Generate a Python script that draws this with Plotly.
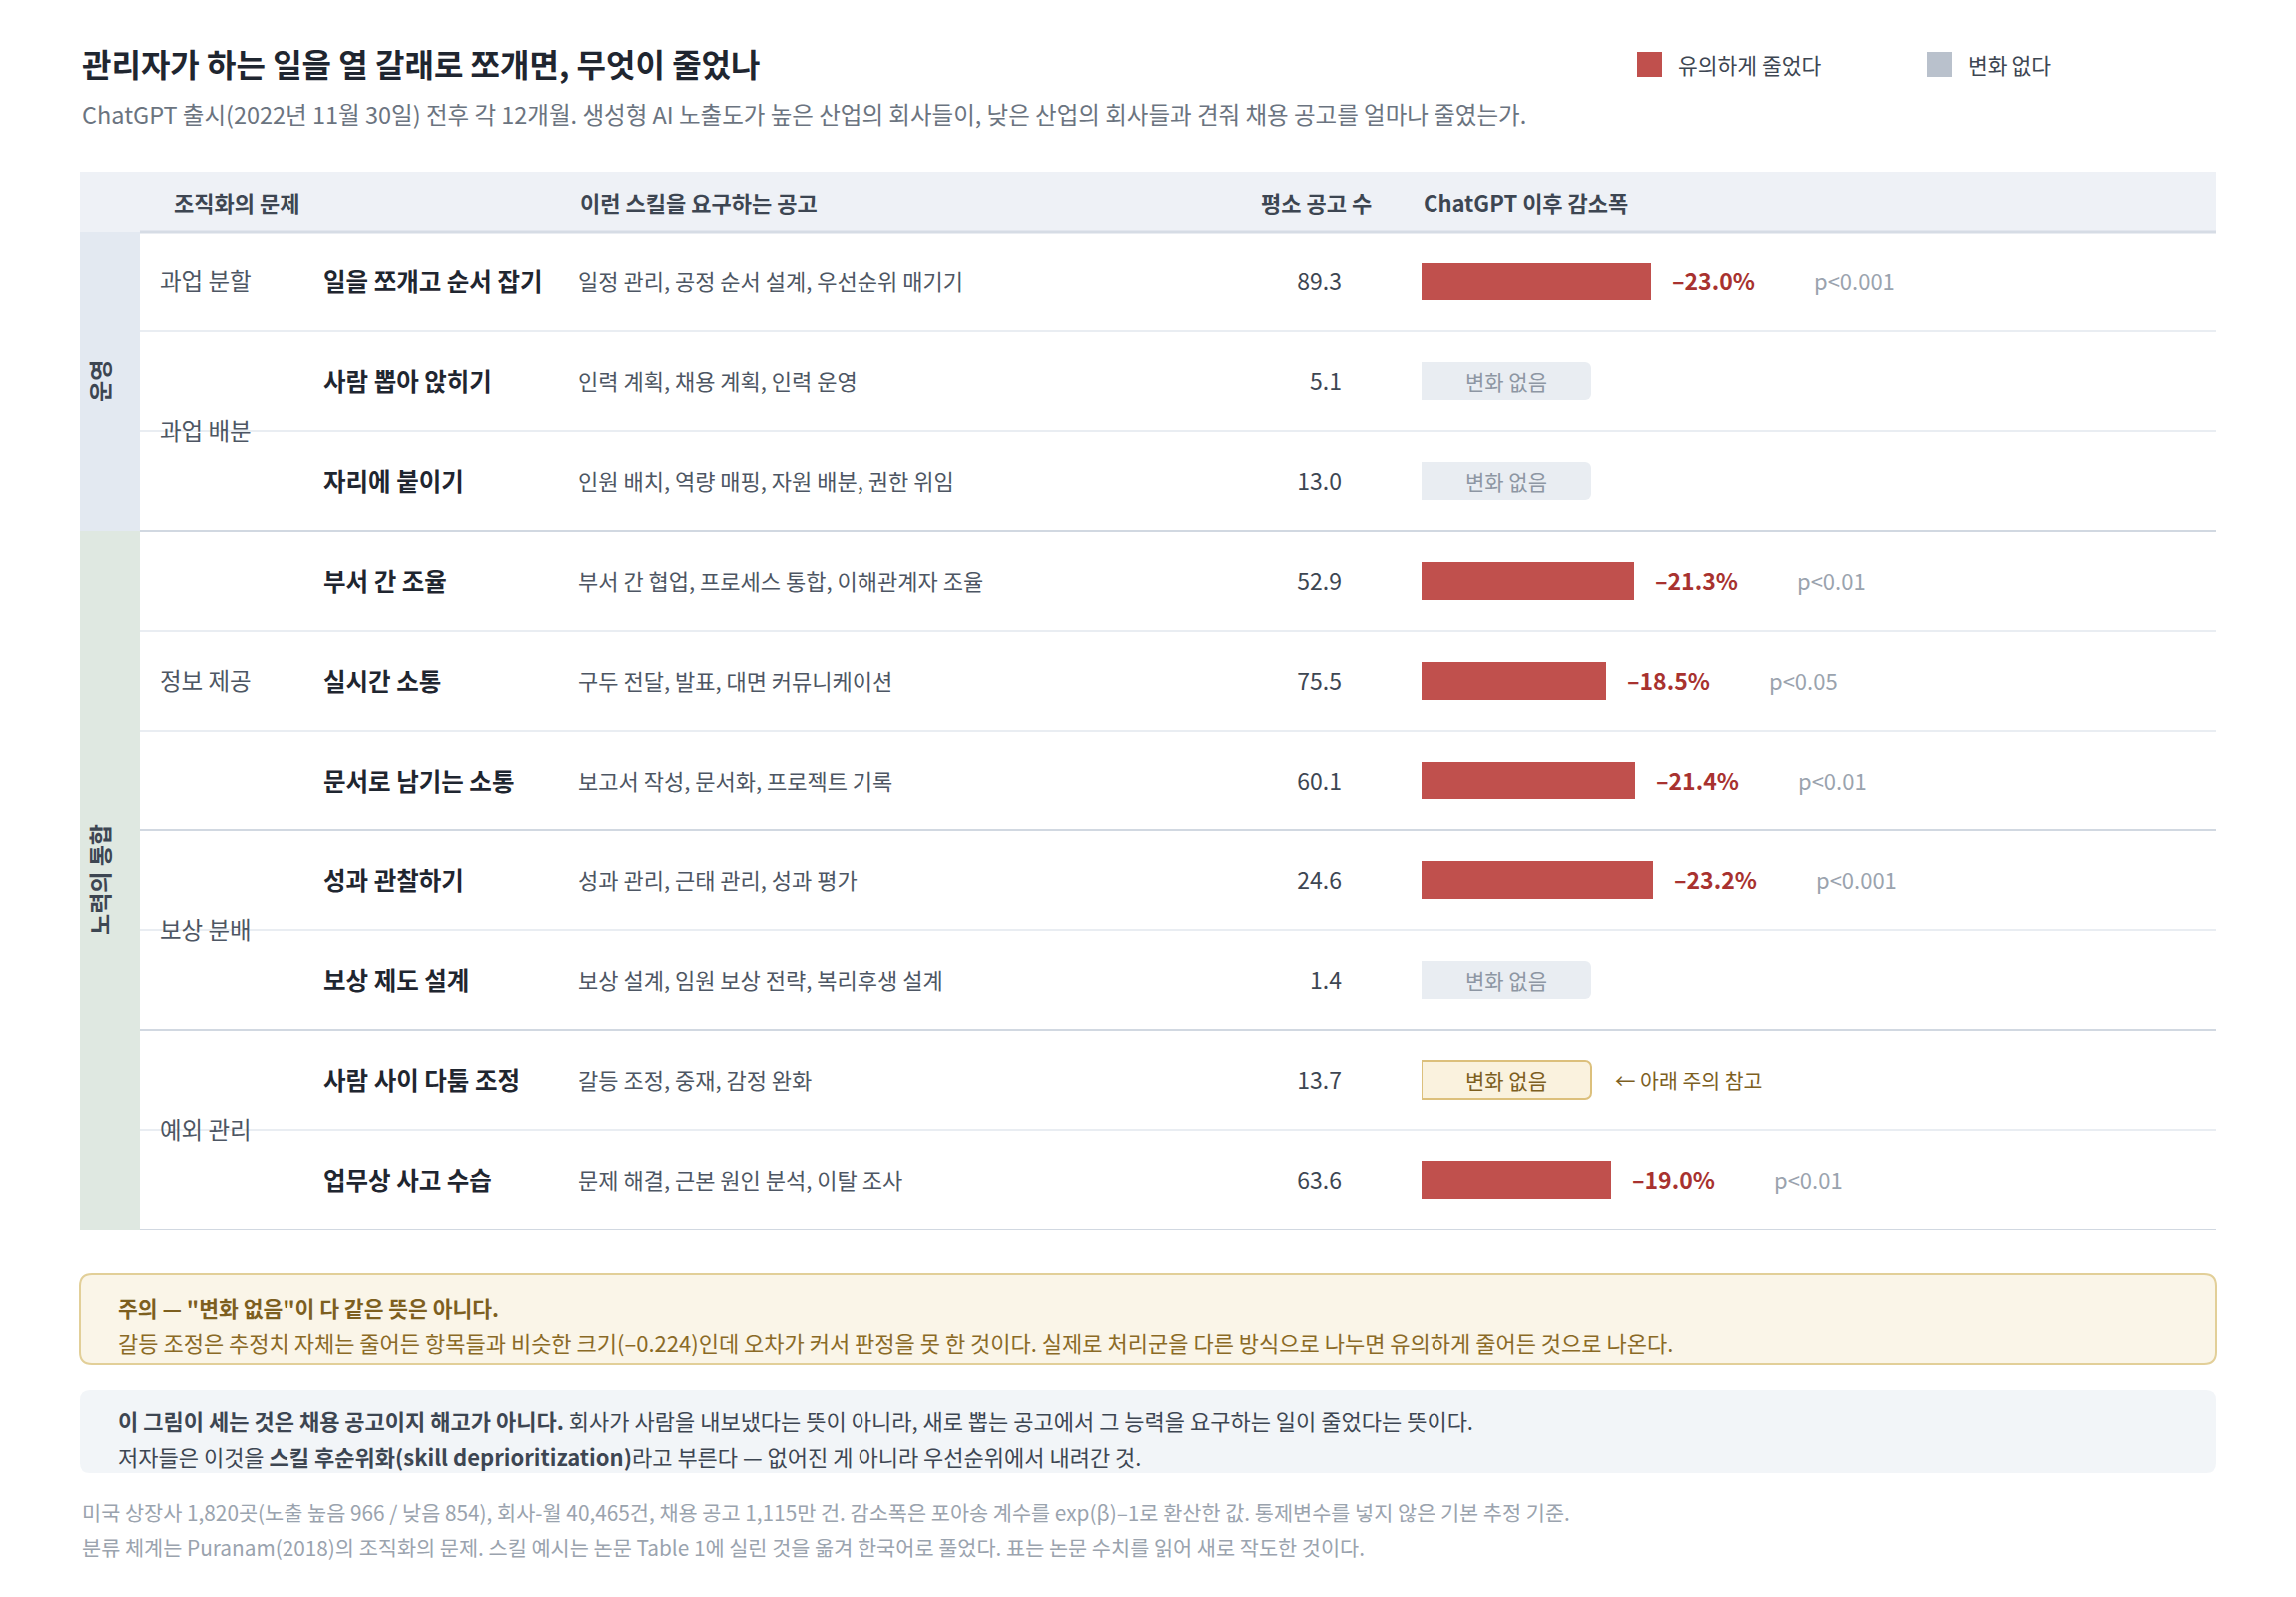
import plotly.graph_objects as go

# page is 2300x1600; the html body keeps an 8px margin, so the figure is drawn 8px in
PAGE_W, PAGE_H = 2300, 1600
OFF = 8
W, H = PAGE_W - OFF, PAGE_H - OFF

# ---------------- data ----------------
bands = ["운영", "노력의 통합"]
band_sizes = [3, 7]
groups = ["과업 분할", "과업 배분", "정보 제공", "보상 분배", "예외 관리"]
group_sizes = [1, 2, 3, 2, 2]
skills = ["일을 쪼개고 순서 잡기", "사람 뽑아 앉히기", "자리에 붙이기", "부서 간 조율", "실시간 소통",
          "문서로 남기는 소통", "성과 관찰하기", "보상 제도 설계", "사람 사이 다툼 조정", "업무상 사고 수습"]
examples = ["일정 관리, 공정 순서 설계, 우선순위 매기기",
            "인력 계획, 채용 계획, 인력 운영",
            "인원 배치, 역량 매핑, 자원 배분, 권한 위임",
            "부서 간 협업, 프로세스 통합, 이해관계자 조율",
            "구두 전달, 발표, 대면 커뮤니케이션",
            "보고서 작성, 문서화, 프로젝트 기록",
            "성과 관리, 근태 관리, 성과 평가",
            "보상 설계, 임원 보상 전략, 복리후생 설계",
            "갈등 조정, 중재, 감정 완화",
            "문제 해결, 근본 원인 분석, 이탈 조사"]
baseline_posts = [89.3, 5.1, 13.0, 52.9, 75.5, 60.1, 24.6, 1.4, 13.7, 63.6]
decline_pct = [-23.0, None, None, -21.3, -18.5, -21.4, -23.2, None, None, -19.0]
p_values = ["p<0.001", None, None, "p<0.01", "p<0.05", "p<0.01", "p<0.001", None, None, "p<0.01"]
flagged_row = 8  # 사람 사이 다툼 조정 : see note below

headers = ["조직화의 문제", "이런 스킬을 요구하는 공고", "평소 공고 수", "ChatGPT 이후 감소폭"]
legend_labels = ["유의하게 줄었다", "변화 없다"]
ns_label = "변화 없음"
flag_note = "← 아래 주의 참고"

title = "관리자가 하는 일을 열 갈래로 쪼개면, 무엇이 줄었나"
subtitle = ("ChatGPT 출시(2022년 11월 30일) 전후 각 12개월. 생성형 AI 노출도가 높은 산업의 회사들이, "
            "낮은 산업의 회사들과 견줘 채용 공고를 얼마나 줄였는가.")
note_title = "주의 — \"변화 없음\"이 다 같은 뜻은 아니다."
note_text = ("갈등 조정은 추정치 자체는 줄어든 항목들과 비슷한 크기(–0.224)인데 오차가 커서 판정을 못 한 것이다. "
             "실제로 처리군을 다른 방식으로 나누면 유의하게 줄어든 것으로 나온다.")
info_line1 = ("<b>이 그림이 세는 것은 채용 공고이지 해고가 아니다.</b> 회사가 사람을 내보냈다는 뜻이 아니라, "
              "새로 뽑는 공고에서 그 능력을 요구하는 일이 줄었다는 뜻이다.")
info_line2 = ("저자들은 이것을 <b>스킬 후순위화(skill deprioritization)</b>라고 부른다 — "
              "없어진 게 아니라 우선순위에서 내려간 것.")
footer1 = ("미국 상장사 1,820곳(노출 높음 966 / 낮음 854), 회사-월 40,465건, 채용 공고 1,115만 건. "
           "감소폭은 포아송 계수를 exp(β)–1로 환산한 값. 통제변수를 넣지 않은 기본 추정 기준.")
footer2 = ("분류 체계는 Puranam(2018)의 조직화의 문제. 스킬 예시는 논문 Table 1에 실린 것을 옮겨 "
           "한국어로 풀었다. 표는 논문 수치를 읽어 새로 작도한 것이다.")

# ---------------- style ----------------
FONT = "Noto Sans CJK KR, Noto Sans, sans-serif"
RED = "#c0504d"
RED_TXT = "#a8322f"
GREY_SQ = "#b9c1cc"
DARK = "#1f2630"
MID = "#3d4652"
SOFT = "#4d5663"
MUTED = "#9aa3ae"
PILL_FILL = "#e9edf2"
PILL_TXT = "#8d96a3"
FLAG_FILL = "#faf2de"
FLAG_LINE = "#dcc07c"
FLAG_TXT = "#7d5f1f"

TABLE_L, TABLE_R = 80, 2220
BAND_R = 140
HEAD_T, ROWS_T, ROW_H = 172, 232, 100
n = len(skills)
ROWS_B = ROWS_T + ROW_H * n
BAR_X0 = 1424
PX_PER_PCT = 10
PILL_W = 17  # in pct units (170 px)
BAR_W = 0.38
HEAVY_AFTER = {2, 5, 7}
TDY = 0.035  # optical vertical centring of row text

X_GROUP, X_SKILL, X_EX, X_VAL = 160, 324, 579, 1344


def xp(v):
    return (v - OFF) / W


def yp(v):
    return 1 - (v - OFF) / H


def rrect(x0, y0, x1, y1, r):
    X, Y = xp, yp
    return (f"M{X(x0+r)},{Y(y0)} L{X(x1-r)},{Y(y0)} Q{X(x1)},{Y(y0)} {X(x1)},{Y(y0+r)} "
            f"L{X(x1)},{Y(y1-r)} Q{X(x1)},{Y(y1)} {X(x1-r)},{Y(y1)} L{X(x0+r)},{Y(y1)} "
            f"Q{X(x0)},{Y(y1)} {X(x0)},{Y(y1-r)} L{X(x0)},{Y(y0+r)} Q{X(x0)},{Y(y0)} {X(x0+r)},{Y(y0)} Z")


rows = list(range(n))
sig_rows = [i for i in rows if decline_pct[i] is not None]
ns_rows = [i for i in rows if decline_pct[i] is None]


def ty(vals):
    return [v + TDY for v in vals]


fig = go.Figure()

# significant decline bars
fig.add_trace(go.Bar(
    orientation="h", y=sig_rows, x=[abs(decline_pct[i]) for i in sig_rows],
    xaxis="x2", yaxis="y", width=BAR_W, marker=dict(color=RED, line=dict(width=0)),
    hoverinfo="skip", showlegend=False))

# "no change" pills
fig.add_trace(go.Bar(
    orientation="h", y=ns_rows, x=[PILL_W] * len(ns_rows), xaxis="x2", yaxis="y", width=BAR_W,
    marker=dict(color=[FLAG_FILL if i == flagged_row else PILL_FILL for i in ns_rows],
                line=dict(color=[FLAG_LINE if i == flagged_row else PILL_FILL for i in ns_rows],
                          width=[2 if i == flagged_row else 0 for i in ns_rows]),
                cornerradius=6),
    hoverinfo="skip", showlegend=False))
fig.add_trace(go.Scatter(
    x=[PILL_W / 2] * len(ns_rows), y=ty(ns_rows), xaxis="x2", yaxis="y", mode="text",
    text=[ns_label] * len(ns_rows), textposition="middle center",
    textfont=dict(size=21, color=[FLAG_TXT if i == flagged_row else PILL_TXT for i in ns_rows], family=FONT),
    hoverinfo="skip", showlegend=False))

# decline labels and p-values
fig.add_trace(go.Scatter(
    x=[abs(decline_pct[i]) + 2.1 for i in sig_rows], y=ty(sig_rows), xaxis="x2", yaxis="y", mode="text",
    text=[f"<b>–{abs(decline_pct[i]):.1f}%</b>" for i in sig_rows], textposition="middle right",
    textfont=dict(size=23, color=RED_TXT, family=FONT), hoverinfo="skip", showlegend=False))
fig.add_trace(go.Scatter(
    x=[abs(decline_pct[i]) + 2.1 + 14.2 for i in sig_rows], y=ty(sig_rows), xaxis="x2", yaxis="y",
    mode="text", text=[p_values[i] for i in sig_rows], textposition="middle right",
    textfont=dict(size=22, color=MUTED, family=FONT), hoverinfo="skip", showlegend=False))
fig.add_trace(go.Scatter(
    x=[PILL_W + 2.4], y=ty([flagged_row]), xaxis="x2", yaxis="y", mode="text", text=[flag_note],
    textposition="middle right", textfont=dict(size=20.5, color=FLAG_TXT, family=FONT),
    hoverinfo="skip", showlegend=False))

# table text columns
fig.add_trace(go.Scatter(
    x=[X_SKILL] * n, y=ty(rows), mode="text", text=[f"<b>{s}</b>" for s in skills],
    textposition="middle right", textfont=dict(size=24.5, color=DARK, family=FONT),
    hoverinfo="skip", showlegend=False))
fig.add_trace(go.Scatter(
    x=[X_EX] * n, y=ty(rows), mode="text", text=examples, textposition="middle right",
    textfont=dict(size=22, color=SOFT, family=FONT), hoverinfo="skip", showlegend=False))
fig.add_trace(go.Scatter(
    x=[X_VAL] * n, y=ty(rows), mode="text", text=[f"{v:.1f}" for v in baseline_posts],
    textposition="middle left", textfont=dict(size=23, color=MID, family=FONT),
    hoverinfo="skip", showlegend=False))

# group labels
g_y, start = [], 0
for size in group_sizes:
    g_y.append(start + (size - 1) / 2)
    start += size
fig.add_trace(go.Scatter(
    x=[X_GROUP] * len(groups), y=ty(g_y), mode="text", text=groups, textposition="middle right",
    textfont=dict(size=23.5, color=SOFT, family=FONT), hoverinfo="skip", showlegend=False))

shapes = []
annotations = []

# header band
shapes.append(dict(type="rect", xref="paper", yref="paper", x0=xp(TABLE_L), x1=xp(TABLE_R),
                   y0=yp(ROWS_T), y1=yp(HEAD_T), fillcolor="#eef1f6", line=dict(width=0), layer="below"))
hdr_y = yp((HEAD_T + ROWS_T) / 2)
for text, x, anchor in zip(headers, [172, X_EX, 1376, BAR_X0], ["left", "left", "right", "left"]):
    annotations.append(dict(text=f"<b>{text}</b>", x=xp(x), y=hdr_y, xref="paper", yref="paper",
                            xanchor=anchor, yanchor="middle", showarrow=False,
                            font=dict(size=22, color=MID, family=FONT)))

# left bands
band_colors = ["#e3e9f1", "#dfe8e1"]
start = 0
for name, size, col in zip(bands, band_sizes, band_colors):
    shapes.append(dict(type="rect", xref="paper", yref="y", x0=xp(TABLE_L), x1=xp(BAND_R),
                       y0=start - 0.5, y1=start + size - 0.5, fillcolor=col, line=dict(width=0), layer="below"))
    annotations.append(dict(text=f"<b>{name}</b>", x=xp(99), y=start + (size - 1) / 2, xref="paper", yref="y",
                            textangle=-90, showarrow=False, xanchor="center", yanchor="middle",
                            font=dict(size=23, color=MID, family=FONT)))
    start += size

# row rules
shapes.append(dict(type="line", xref="paper", yref="paper", x0=xp(BAND_R), x1=xp(TABLE_R),
                   y0=yp(ROWS_T), y1=yp(ROWS_T), line=dict(color="#d6dce5", width=3), layer="below"))
for i in rows:
    heavy = i in HEAVY_AFTER or i == n - 1
    shapes.append(dict(type="line", xref="paper", yref="y", x0=xp(BAND_R), x1=xp(TABLE_R),
                       y0=i + 0.5, y1=i + 0.5,
                       line=dict(color="#d1d8e1" if heavy else "#e9edf2", width=2), layer="below"))

# title, subtitle
annotations.append(dict(text=f"<b>{title}</b>", x=xp(80), y=yp(63), xref="paper", yref="paper",
                        xanchor="left", yanchor="middle", showarrow=False,
                        font=dict(size=32, color=DARK, family=FONT)))
annotations.append(dict(text=subtitle, x=xp(80), y=yp(114), xref="paper", yref="paper",
                        xanchor="left", yanchor="middle", showarrow=False,
                        font=dict(size=23.5, color="#6b7480", family=FONT)))

# legend
for lab, col, x in zip(legend_labels, [RED, GREY_SQ], [1640, 1930]):
    shapes.append(dict(type="rect", xref="paper", yref="paper", x0=xp(x), x1=xp(x + 25),
                       y0=yp(77), y1=yp(52), fillcolor=col, line=dict(width=0)))
    annotations.append(dict(text=lab, x=xp(x + 39), y=yp(64), xref="paper", yref="paper",
                            xanchor="left", yanchor="middle", showarrow=False,
                            font=dict(size=21.5, color=MID, family=FONT)))

# note box
shapes.append(dict(type="path", xref="paper", yref="paper", path=rrect(80, 1276, 2220, 1367, 12),
                   fillcolor="#faf5e8", line=dict(color="#e2cf98", width=2), layer="below"))
annotations.append(dict(text=f"<b>{note_title}</b>", x=xp(116), y=yp(1309), xref="paper", yref="paper",
                        xanchor="left", yanchor="middle", showarrow=False,
                        font=dict(size=21.5, color=FLAG_TXT, family=FONT)))
annotations.append(dict(text=note_text, x=xp(116), y=yp(1345), xref="paper", yref="paper",
                        xanchor="left", yanchor="middle", showarrow=False,
                        font=dict(size=22, color="#8a6a26", family=FONT)))

# info box
shapes.append(dict(type="path", xref="paper", yref="paper", path=rrect(80, 1393, 2220, 1476, 10),
                   fillcolor="#f2f5f8", line=dict(width=0), layer="below"))
for txt, y in [(info_line1, 1423), (info_line2, 1459)]:
    annotations.append(dict(text=txt, x=xp(116), y=yp(y), xref="paper", yref="paper",
                            xanchor="left", yanchor="middle", showarrow=False,
                            font=dict(size=22, color=MID, family=FONT)))

# footer
for txt, y in [(footer1, 1515), (footer2, 1550)]:
    annotations.append(dict(text=txt, x=xp(80), y=yp(y), xref="paper", yref="paper",
                            xanchor="left", yanchor="middle", showarrow=False,
                            font=dict(size=20.8, color=MUTED, family=FONT)))

fig.update_layout(
    width=W, height=H, margin=dict(l=0, r=0, t=0, b=0),
    paper_bgcolor="white", plot_bgcolor="rgba(0,0,0,0)",
    font=dict(family=FONT, color=MID),
    barmode="overlay", showlegend=False,
    xaxis=dict(domain=[0, 1], range=[OFF, PAGE_W], visible=False, fixedrange=True),
    xaxis2=dict(domain=[xp(BAR_X0), xp(TABLE_R)], range=[0, (TABLE_R - BAR_X0) / PX_PER_PCT],
                anchor="y", visible=False, fixedrange=True),
    yaxis=dict(domain=[yp(ROWS_B), yp(ROWS_T)], range=[n - 0.5, -0.5], visible=False, fixedrange=True),
    shapes=shapes, annotations=annotations,
)

fig.write_html("out.html")
